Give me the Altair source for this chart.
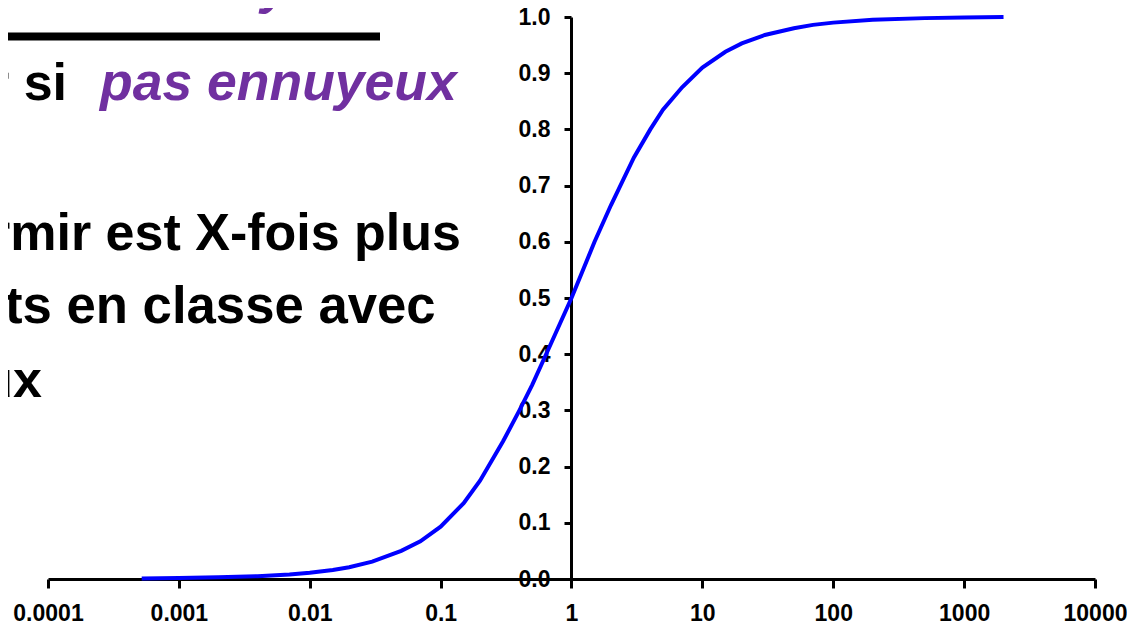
import altair as alt
import pandas as pd

# ---- data ----
x_vals = [0.00052, 0.001, 0.002, 0.004, 0.007, 0.01, 0.015, 0.02, 0.03, 0.05, 0.07,
          0.1, 0.15, 0.2, 0.3, 0.4, 0.5, 0.7, 1.0, 1.5, 2, 3, 4, 5, 7, 10, 15, 20,
          30, 50, 70, 100, 200, 500, 1000, 2000]
y_vals = [0.001, 0.002, 0.003, 0.005, 0.008, 0.011, 0.016, 0.021, 0.031, 0.05, 0.067,
          0.093, 0.135, 0.175, 0.245, 0.3, 0.345, 0.42, 0.5, 0.6, 0.665, 0.75, 0.8,
          0.835, 0.875, 0.91, 0.938, 0.953, 0.968, 0.98, 0.986, 0.99, 0.995, 0.998,
          0.999, 1.0]
x_ticks = [0.0001, 0.001, 0.01, 0.1, 1, 10, 100, 1000, 10000]
x_tick_labels = ["0.0001", "0.001", "0.01", "0.1", "1", "10", "100", "1000", "10000"]
y_ticks = [0.0, 0.1, 0.2, 0.3, 0.4, 0.5, 0.6, 0.7, 0.8, 0.9, 1.0]

slide_black = ["La probabilité de s'endormir si",
               "La probabilité de s'endormir si",
               "La probabilité de s'endormir est X-fois plus",
               "ts en classe avec",
               "prof ennuyeux"]
slide_purple = ["ennuyeux", "pas ennuyeux"]

FONT = "Liberation Sans"
PURPLE = "#7030A0"

df = pd.DataFrame({"x": x_vals, "y": y_vals})

label_expr = " : ".join(
    f"datum.value < {t * 1.5} ? '{lab}'" for t, lab in zip(x_ticks[:-1], x_tick_labels[:-1])
) + f" : '{x_tick_labels[-1]}'"

curve = alt.Chart(df).mark_line(color="#0000FF", strokeWidth=4).encode(
    x=alt.X("x:Q",
            scale=alt.Scale(type="log", domain=[x_ticks[0], x_ticks[-1]], nice=False),
            axis=alt.Axis(values=x_ticks, labelExpr=label_expr, title=None, grid=False,
                          domainColor="black", domainWidth=3, tickColor="black",
                          tickWidth=3, tickSize=9, labelFont=FONT, labelFontSize=23,
                          labelFontWeight="bold", labelColor="black", labelPadding=14,
                          labelOverlap=False, labelFlush=False)),
    y=alt.Y("y:Q",
            scale=alt.Scale(domain=[0, 1], nice=False),
            axis=alt.Axis(values=y_ticks, format=".1f", title=None, grid=False,
                          offset=-523, domainColor="black", domainWidth=3,
                          tickColor="black", tickWidth=3, tickSize=7, labelFont=FONT,
                          labelFontSize=23, labelFontWeight="bold", labelColor="black",
                          labelPadding=14, labelOverlap=False)),
)


def txt(text, x, y, color="black", italic=False, align="right", size=52):
    return alt.Chart(pd.DataFrame({"t": [text]})).mark_text(
        align=align, baseline="alphabetic", font=FONT, fontSize=size,
        fontWeight="bold", fontStyle="italic" if italic else "normal", color=color
    ).encode(text="t:N", x=alt.value(x), y=alt.value(y))


rule = alt.Chart(pd.DataFrame({"a": [0]})).mark_rule(color="black", strokeWidth=8).encode(
    x=alt.value(-48), x2=alt.value(332), y=alt.value(19.5)
)

layers = [
    txt(slide_black[0], 65, -14),
    txt(slide_purple[0], 85, -14, color=PURPLE, italic=True, align="left", size=53.5),
    rule,
    txt(slide_black[1], 19, 83),
    txt(slide_purple[1], 52, 83, color=PURPLE, italic=True, align="left", size=53.5),
    txt(slide_black[2], 413, 233),
    txt(slide_black[3], -43, 306, align="left", size=52.7),
    txt(slide_black[4], -6, 380),
    curve,
]

chart = alt.layer(*layers).properties(
    width=1047, height=562,
    padding={"left": 40, "top": 9, "right": 32, "bottom": 47},
    autosize=alt.AutoSizeParams(type="none"),
).configure_view(stroke=None)

chart.save("out.html", embed_options={"renderer": "svg", "actions": False})
